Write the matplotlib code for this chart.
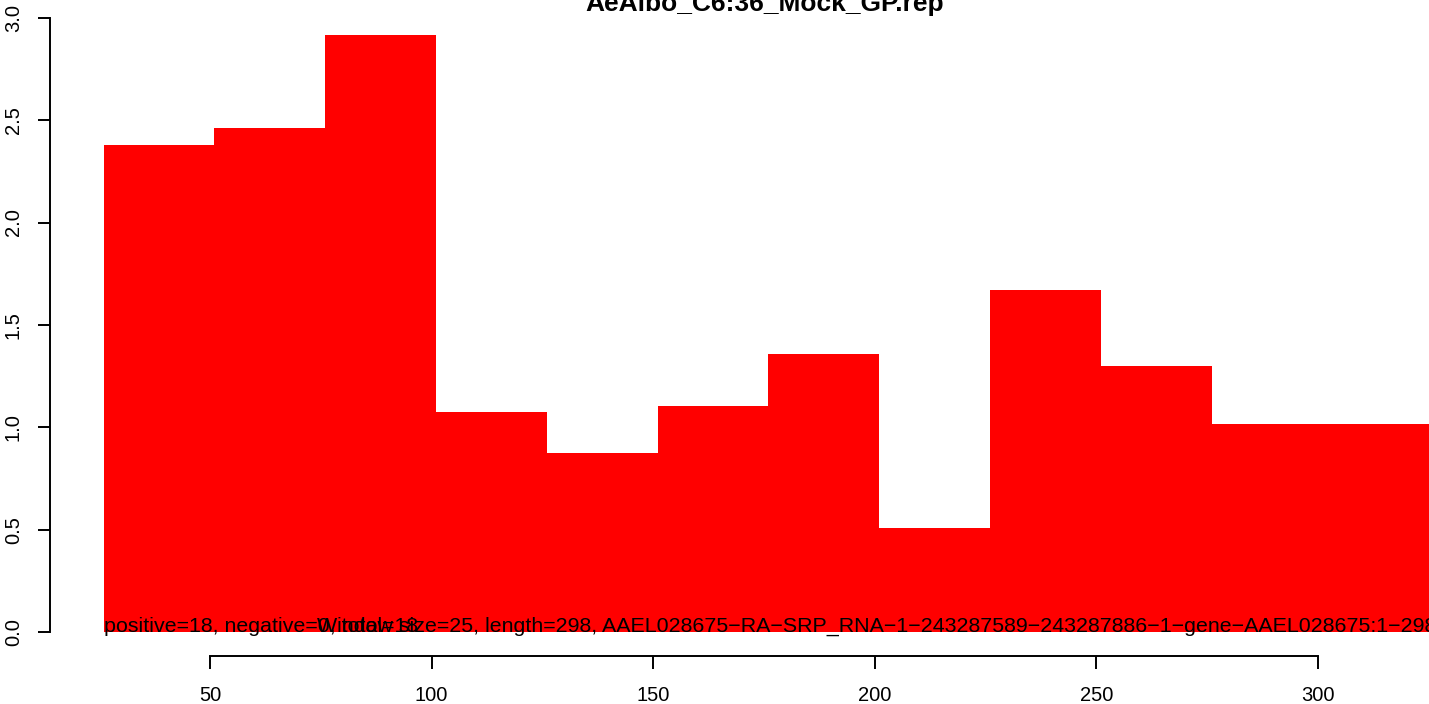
import matplotlib
matplotlib.use('Agg')
from matplotlib import pyplot as plt

plt.rcParams['font.family'] = ['Liberation Sans', 'DejaVu Sans']

# window starts (window size 25) and mean coverage per window
starts = [26, 51, 76, 101, 126, 151, 176, 201, 226, 251, 276, 301]
heights = [2.379, 2.462, 2.917, 1.075, 0.874, 1.104, 1.358, 0.508, 1.671, 1.300, 1.016, 1.016]
win = 25
title = 'AeAlbo_C6:36_Mock_GP.rep'
info1 = 'positive=18, negative=0, total=18'
info2 = ('Window size=25, length=298, AAEL028675\u2212RA\u2212SRP_RNA\u22121\u2212'
         '243287589\u2212243287886\u22121\u2212gene\u2212AAEL028675:1\u2212298')
xticks = [50, 100, 150, 200, 250, 300]
yticks = [0.0, 0.5, 1.0, 1.5, 2.0, 2.5, 3.0]

fig = plt.figure(figsize=(14.29, 7.04), dpi=100)
ax = fig.add_axes([50/1429, 48/704, 1379/1429, 645/704])

ax.bar(starts, heights, width=win, align='edge', color='red', linewidth=0)
ax.set_xlim(13.9, 325.05)
ax.set_ylim(-0.117, 3.033)

for s in ['top', 'right']:
    ax.spines[s].set_visible(False)
ax.spines['left'].set_bounds(0, 3)
ax.spines['bottom'].set_bounds(50, 300)
ax.spines['left'].set_linewidth(1.4)
ax.spines['bottom'].set_linewidth(1.4)

ax.set_xticks(xticks)
ax.set_xticklabels([str(v) for v in xticks])
ax.set_yticks(yticks)
ax.set_yticklabels(['%.1f' % v for v in yticks], rotation=90, va='center')
ax.tick_params(axis='x', length=9.4, width=1.4, pad=12.5, labelsize=14.5)
ax.tick_params(axis='y', length=8.6, width=1.4, pad=11, labelsize=14.5)

ax.text(26, 0.0, info1, fontsize=15.4, ha='left', va='baseline', clip_on=False)
ax.text(74.1, 0.0, info2, fontsize=15.4, ha='left', va='baseline', clip_on=False)

fig.text(765/1429, 1 - 11/704, title, fontsize=19, fontweight='bold',
         ha='center', va='baseline')

fig.savefig('out.png', dpi=100)
